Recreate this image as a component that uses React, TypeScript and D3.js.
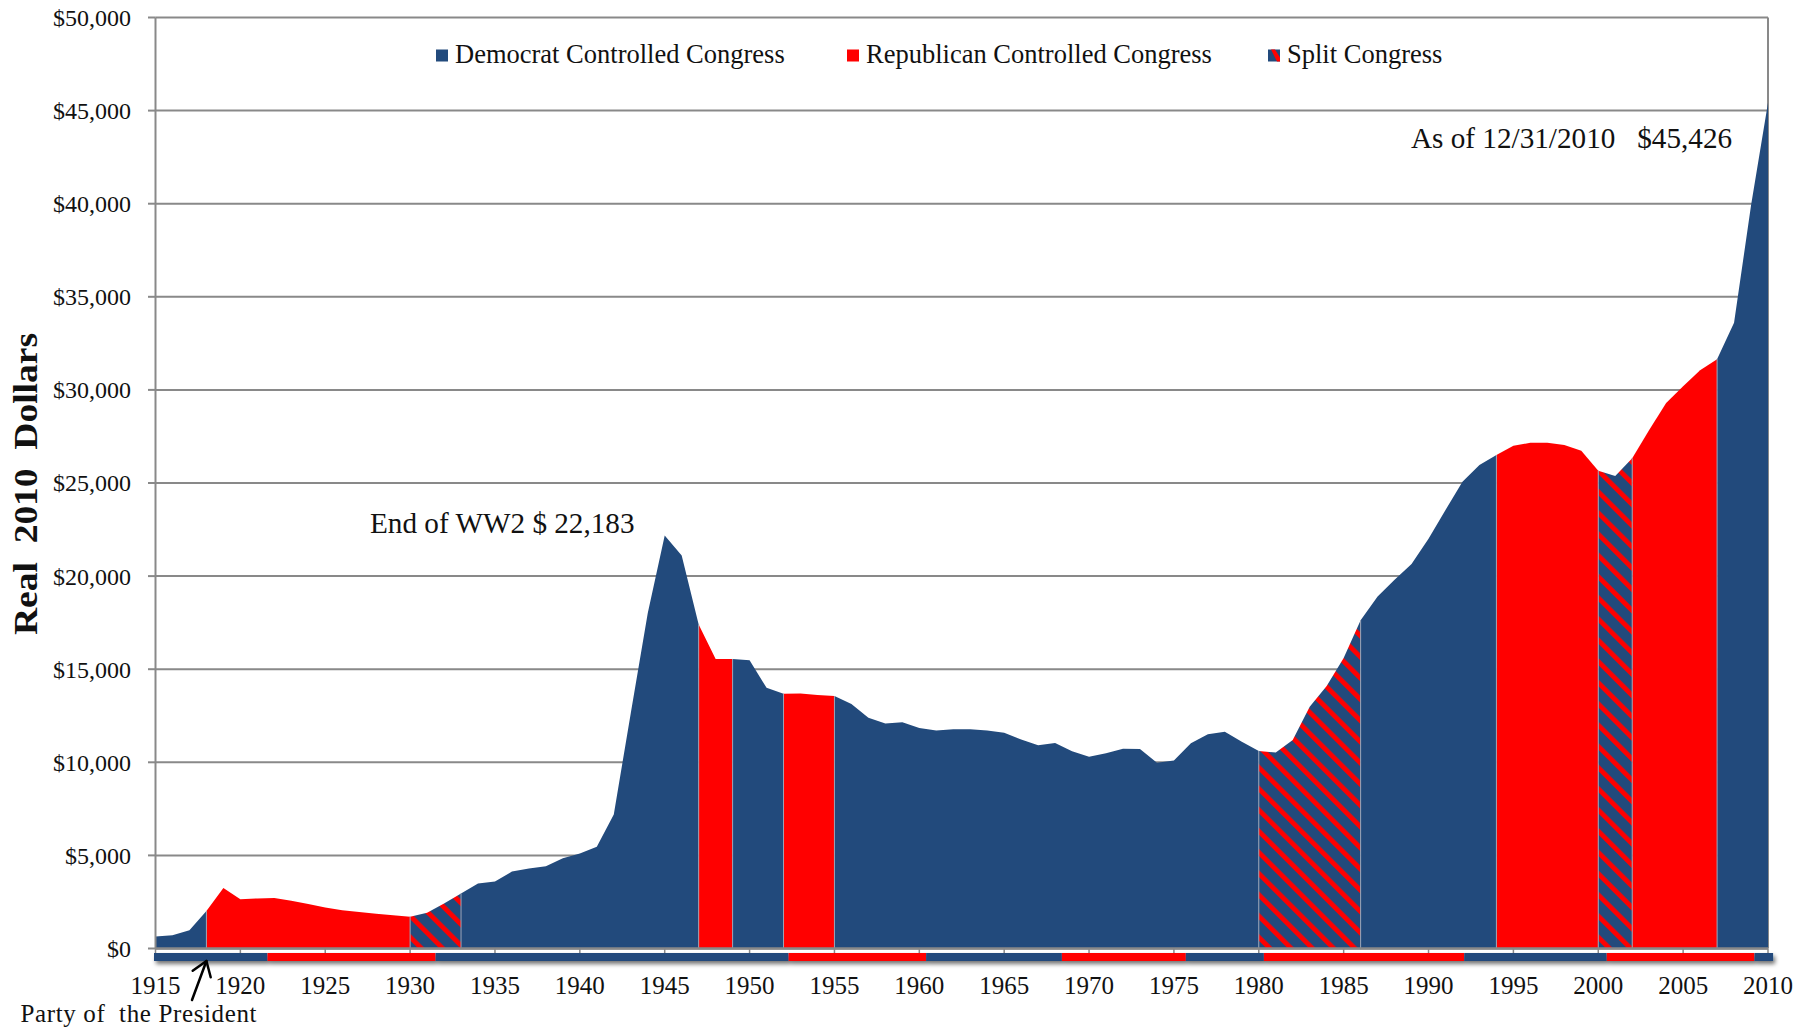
import React from "react";
import * as d3 from "d3";

// ---------- DATA ----------
const firstYear = 1915;
// Real (2010 dollars) debt per capita, 1915 .. 2010
const debtPerCapita = [
  650, 715, 985, 2020, 3255, 2650, 2690, 2710, 2560, 2390, // 1915-1924
  2200, 2060, 1960, 1870, 1790, 1710, 1920, 2420, 2950, 3490, // 1925-1934
  3600, 4130, 4300, 4420, 4850, 5100, 5470, 7200, 12640, 18000, // 1935-1944
  22183, 21100, 17400, 15550, 15550, 15480, 14000, 13680, 13690, 13620, // 1945-1954
  13560, 13130, 12390, 12080, 12150, 11840, 11710, 11775, 11775, 11710, // 1955-1964
  11590, 11220, 10910, 11035, 10600, 10300, 10480, 10730, 10710, 9980, // 1965-1974
  10090, 11020, 11500, 11640, 11110, 10610, 10520, 11200, 12990, 14100, // 1975-1984
  15600, 17630, 18900, 19800, 20650, 22000, 23550, 25070, 25970, 26500, // 1985-1994
  27000, 27160, 27160, 27040, 26730, 25660, 25380, 26330, 27850, 29300, // 1995-2004
  30200, 31050, 31650, 33600, 39900, 45426, // 2005-2010
];

// Party controlling Congress: D = Democrat, R = Republican, S = Split
const congressFrom = [1915, 1918, 1930, 1933, 1947, 1949, 1952, 1955, 1980, 1986, 1994, 2000, 2002, 2007];
const congressTo = [1918, 1930, 1933, 1947, 1949, 1952, 1955, 1980, 1986, 1994, 2000, 2002, 2007, 2010];
const congressParty = ["D", "R", "S", "D", "R", "D", "R", "D", "S", "D", "R", "S", "R", "D"];

// Party of the President (bar under the axis)
const presidentFrom = [1915, 1921.6, 1931.5, 1952.3, 1960.4, 1968.4, 1975.7, 1980.3, 1992.1, 2000.5, 2009.2];
const presidentTo = [1921.6, 1931.5, 1952.3, 1960.4, 1968.4, 1975.7, 1980.3, 1992.1, 2000.5, 2009.2, 2010.3];
const presidentParty = ["D", "R", "D", "R", "D", "R", "D", "R", "D", "R", "D"];

const yTicks = [0, 5000, 10000, 15000, 20000, 25000, 30000, 35000, 40000, 45000, 50000];
const xTicks = [1915, 1920, 1925, 1930, 1935, 1940, 1945, 1950, 1955, 1960, 1965, 1970, 1975, 1980, 1985, 1990, 1995, 2000, 2005, 2010];

const legendLabels = ["Democrat Controlled Congress", "Republican Controlled Congress", "Split Congress"];
const legendKeys = ["D", "R", "S"];

// ---------- STYLE ----------
const BLUE = "#224A7C";
const RED = "#FF0000";
const GRAY = "#898989";
const FONT = '"Liberation Serif", "Times New Roman", serif';

const W = 1800;
const H = 1027;

export default function App() {
  const data = debtPerCapita.map((v, i) => ({ year: firstYear + i, value: v }));
  const x = d3.scaleLinear().domain([1915, 2010]).range([155.5, 1768]);
  const y = d3.scaleLinear().domain([0, 50000]).range([948.5, 17.5]);

  const area = d3
    .area<{ year: number; value: number }>()
    .x((d) => x(d.year))
    .y0(y(0))
    .y1((d) => y(d.value));

  const fillFor = (p: string) => (p === "D" ? BLUE : p === "R" ? RED : "url(#hatch)");
  const fmt = d3.format(",");
  const valueAt = (yr: number) => data.find((d) => d.year === yr)!.value;

  const barTop = 953;
  const barH = 8;

  const legendX = [436, 847, 1268];
  const legendY = 49.5;

  return (
    <svg
      width={W}
      height={H}
      style={{ position: "absolute", left: 0, top: 0, display: "block", background: "#fff" }}
      fontFamily={FONT}
    >
      <defs>
        <pattern
          id="hatch"
          patternUnits="userSpaceOnUse"
          width={15}
          height={15}
          patternTransform="rotate(-45)"
        >
          <rect x={0} y={0} width={15} height={15} fill={BLUE} />
          <rect x={0} y={0} width={4.8} height={15} fill={RED} />
        </pattern>
        <filter id="shadow" x="-5%" y="-80%" width="110%" height="300%">
          <feDropShadow dx={2} dy={3} stdDeviation={2} floodColor="#000" floodOpacity={0.55} />
        </filter>
      </defs>

      {/* gridlines */}
      {yTicks.map((t) => (
        <line key={"g" + t} x1={x(1915)} x2={x(2010)} y1={y(t)} y2={y(t)} stroke={GRAY} strokeWidth={2} />
      ))}
      {/* right border */}
      <line x1={x(2010)} x2={x(2010)} y1={y(50000)} y2={y(0)} stroke={GRAY} strokeWidth={2} />

      {/* areas by congress control */}
      {congressParty.map((p, i) => {
        const seg = data.filter((d) => d.year >= congressFrom[i] && d.year <= congressTo[i]);
        return <path key={"a" + i} d={area(seg) || ""} fill={fillFor(p)} />;
      })}
      {/* boundary lines */}
      {congressFrom.slice(1).map((yr, i) => (
        <line
          key={"b" + i}
          x1={x(yr)}
          x2={x(yr)}
          y1={y(0)}
          y2={y(valueAt(yr))}
          stroke="#9aa3b5"
          strokeWidth={1}
        />
      ))}

      {/* axes */}
      <line x1={x(1915)} x2={x(1915)} y1={y(50000)} y2={y(0)} stroke={GRAY} strokeWidth={2} />
      <line x1={x(1915)} x2={x(2010)} y1={y(0)} y2={y(0)} stroke={GRAY} strokeWidth={2.5} />
      {yTicks.map((t) => (
        <line key={"yt" + t} x1={148} x2={x(1915)} y1={y(t)} y2={y(t)} stroke={GRAY} strokeWidth={2} />
      ))}
      {xTicks.map((t) => (
        <line key={"xt" + t} x1={x(t)} x2={x(t)} y1={y(0)} y2={y(0) + 6} stroke={GRAY} strokeWidth={1.5} />
      ))}

      {/* y tick labels */}
      {yTicks.map((t) => (
        <text key={"yl" + t} x={131} y={y(t)} dy="0.35em" textAnchor="end" fontSize={24} fill="#111">
          {"$" + fmt(t)}
        </text>
      ))}
      {/* x tick labels */}
      {xTicks.map((t) => (
        <text key={"xl" + t} x={x(t)} y={993.5} textAnchor="middle" fontSize={25} fill="#111">
          {t}
        </text>
      ))}

      {/* president bar */}
      <g filter="url(#shadow)">
        {presidentParty.map((p, i) => (
          <rect
            key={"p" + i}
            x={x(presidentFrom[i]) - (i === 0 ? 1.5 : 0)}
            y={barTop}
            width={x(presidentTo[i]) - x(presidentFrom[i]) + (i === 0 ? 1.5 : 0)}
            height={barH}
            fill={p === "D" ? BLUE : RED}
          />
        ))}
      </g>

      {/* legend */}
      {legendKeys.map((k, i) => (
        <g key={"lg" + k}>
          <rect x={legendX[i]} y={legendY} width={12} height={12} fill={k === "R" ? RED : BLUE} />
          {k === "S" && (
            <polygon
              points={`${legendX[i] + 3},${legendY} ${legendX[i] + 7},${legendY} ${legendX[i] + 12},${legendY + 8} ${legendX[i] + 12},${legendY + 12} ${legendX[i] + 9},${legendY + 12}`}
              fill={RED}
            />
          )}
          <text x={legendX[i] + 19} y={63} fontSize={26.5} fill="#111">
            {legendLabels[i]}
          </text>
        </g>
      ))}

      {/* annotations */}
      <text x={370} y={533} fontSize={29.2} fill="#111" style={{ whiteSpace: "pre" }}>
        {"End of WW2 $ " + fmt(valueAt(1945))}
      </text>
      <text x={1411} y={148} fontSize={29.2} fill="#111" style={{ whiteSpace: "pre" }}>
        {"As of 12/31/2010   $" + fmt(valueAt(2010))}
      </text>

      {/* y axis title */}
      <text
        transform={`translate(37, 484) rotate(-90)`}
        textAnchor="middle"
        fontSize={34}
        fontWeight="bold"
        fill="#111"
        textLength={302}
        lengthAdjust="spacingAndGlyphs"
        style={{ whiteSpace: "pre" }}
      >
        {"Real  2010  Dollars"}
      </text>

      {/* party of the president label + arrow */}
      <text x={20.5} y={1021.5} fontSize={25} fill="#111" textLength={236} lengthAdjust="spacing" style={{ whiteSpace: "pre" }}>
        {"Party of  the President"}
      </text>
      <g stroke="#000" strokeWidth={2.5} fill="none" strokeLinecap="round" strokeLinejoin="round">
        <line x1={192} y1={1000} x2={x(1918)} y2={barTop + barH} />
        <polyline points={`${192.7},${970.7} ${x(1918)},${barTop + barH} ${210.7},${977.3}`} />
      </g>
    </svg>
  );
}
